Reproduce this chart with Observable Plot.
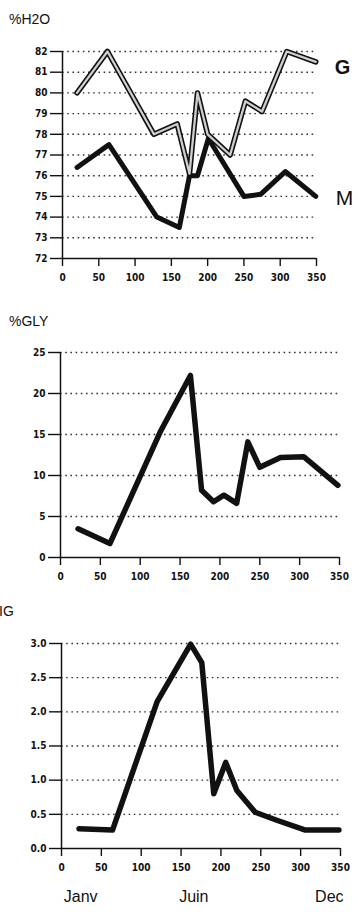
<!DOCTYPE html>
<html>
<head>
<meta charset="utf-8">
<script src="https://cdn.jsdelivr.net/npm/d3@7"></script>
<script src="https://cdn.jsdelivr.net/npm/@observablehq/plot@0.6"></script>
<style>
  html, body { margin: 0; padding: 0; background: #fff; }
  #wrap { position: relative; width: 358px; height: 915px; overflow: hidden; font-family: "Liberation Sans", Arial, sans-serif; }
  .title { position: absolute; font-size: 14px; color: #111; }
  .panel { position: absolute; left: 0; }
</style>
</head>
<body>
<div id="wrap">
  <div class="title" style="left:9px; top:11px;">%H2O</div>
  <div class="title" style="left:9px; top:313px;">%GLY</div>
  <div class="title" style="left:-1px; top:603px;">IG</div>
</div>
<script>
// ---- data (day of year, values) ----
const daysG = [20, 62, 126, 158, 175, 186, 200, 231, 252, 275, 309, 349];
const h2oG  = [80.0, 82.0, 78.0, 78.5, 76.1, 80.0, 78.0, 77.0, 79.6, 79.1, 82.0, 81.5];
const daysM = [20, 64, 130, 161, 175, 186, 201, 250, 273, 307, 349];
const h2oM  = [76.4, 77.5, 74.0, 73.5, 76.0, 76.0, 77.8, 75.0, 75.1, 76.2, 75.0];

const daysGly = [22, 62, 125, 163, 177, 192, 205, 221, 235, 250, 276, 305, 348];
const gly     = [3.5, 1.7, 15.3, 22.2, 8.2, 6.8, 7.6, 6.6, 14.1, 11.0, 12.2, 12.3, 8.8];

const daysIg = [22, 64, 120, 162, 176, 191, 206, 220, 243, 271, 306, 348];
const ig     = [0.29, 0.27, 2.15, 2.99, 2.72, 0.80, 1.26, 0.85, 0.53, 0.41, 0.27, 0.27];

const xTicks = [0, 50, 100, 150, 200, 250, 300, 350];
const h2oTicks = [72, 73, 74, 75, 76, 77, 78, 79, 80, 81, 82];
const glyTicks = [0, 5, 10, 15, 20, 25];
const igTicks = [0, 0.5, 1, 1.5, 2, 2.5, 3];
const seriesLabels = ["G", "M"];
const monthLabels = ["Janv", "Juin", "Dec"];
const monthDays = [24, 166, 336];

const zip = (xs, ys) => xs.map((x, i) => ({x, y: ys[i]}));
const tickFont = "'Liberation Sans Narrow', 'DejaVu Sans Condensed', Arial, sans-serif";

function panel({top, height, mt, mb, ml, mr, yDomain, yTicks, yFormat, grid, lines, extra = []}) {
  const chart = Plot.plot({
    width: 358, height,
    marginTop: mt, marginBottom: mb, marginLeft: ml, marginRight: mr,
    style: {fontFamily: tickFont, fontSize: "10px", fontWeight: "bold", color: "#111", background: "transparent", overflow: "visible"},
    x: {domain: [0, 350]},
    y: {domain: yDomain},
    marks: [
      Plot.ruleY(grid, {stroke: "#333", strokeWidth: 1.4, strokeDasharray: "1.6,3.6"}),
      Plot.axisX({ticks: xTicks, tickSize: 8, tickPadding: 7, tickFormat: d => String(d), label: null, strokeWidth: 1.4}),
      Plot.axisY({ticks: yTicks, tickSize: 12, tickPadding: 3, tickFormat: yFormat, label: null, strokeWidth: 1.4}),
      Plot.ruleX([0], {stroke: "#111", strokeWidth: 1.5}),
      Plot.ruleY([yDomain[0]], {stroke: "#111", strokeWidth: 1.5}),
      ...lines,
      ...extra
    ]
  });
  chart.classList.add("panel");
  chart.style.top = top + "px";
  document.getElementById("wrap").appendChild(chart);
}

// Panel 1: %H2O
panel({
  top: 40, height: 260, mt: 11, mb: 42, ml: 62, mr: 42,
  yDomain: [72, 82], yTicks: h2oTicks, yFormat: d => String(d),
  grid: h2oTicks.slice(1),
  lines: [
    Plot.line(zip(daysM, h2oM), {x: "x", y: "y", stroke: "#111", strokeWidth: 5, strokeLinejoin: "round"}),
    Plot.line(zip(daysG, h2oG), {x: "x", y: "y", stroke: "#111", strokeWidth: 5.5, strokeLinejoin: "round"}),
    Plot.line(zip(daysG, h2oG), {x: "x", y: "y", stroke: "#cfcfcf", strokeWidth: 2.3, strokeLinejoin: "round"})
  ],
  extra: [
    Plot.text([{x: 350, y: 81.2, t: seriesLabels[0]}], {x: "x", y: "y", text: "t", dx: 26, fontSize: 20, fontWeight: "bold", fontFamily: "Arial, 'Liberation Sans', sans-serif", fill: "#111"}),
    Plot.text([{x: 350, y: 74.9, t: seriesLabels[1]}], {x: "x", y: "y", text: "t", dx: 28, fontSize: 21, fontWeight: "normal", fontFamily: "Arial, 'Liberation Sans', sans-serif", fill: "#111"})
  ]
});

// Panel 2: %GLY
panel({
  top: 340, height: 260, mt: 12, mb: 43, ml: 60, mr: 19,
  yDomain: [0, 25], yTicks: glyTicks, yFormat: d => String(d),
  grid: glyTicks.slice(1),
  lines: [
    Plot.line(zip(daysGly, gly), {x: "x", y: "y", stroke: "#111", strokeWidth: 5.5, strokeLinejoin: "round"})
  ]
});

// Panel 3: IG
panel({
  top: 630, height: 285, mt: 13, mb: 67, ml: 61, mr: 18,
  yDomain: [0, 3], yTicks: igTicks, yFormat: d => d.toFixed(1),
  grid: igTicks.slice(1),
  lines: [
    Plot.line(zip(daysIg, ig), {x: "x", y: "y", stroke: "#111", strokeWidth: 5.5, strokeLinejoin: "round"})
  ],
  extra: [
    Plot.text(monthLabels.map((m, i) => ({x: monthDays[i], t: m})), {x: "x", y: 0, text: "t", dy: 48, fontSize: 16, fontWeight: "normal", fontFamily: "'Liberation Sans Narrow', Arial, sans-serif", fill: "#111"})
  ]
});
</script>
</body>
</html>
